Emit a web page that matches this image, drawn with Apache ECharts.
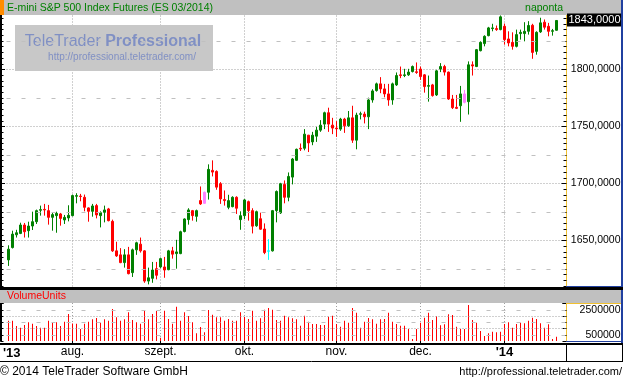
<!DOCTYPE html>
<html><head><meta charset="utf-8">
<script src="https://cdn.jsdelivr.net/npm/echarts@6/dist/echarts.min.js"></script>
<style>html,body{margin:0;padding:0;background:#fff}#c{width:624px;height:380px}</style>
</head><body><div id="c"></div>
<script>
// ---------- DATA ----------
const dates = [
'2013-07-10','2013-07-11','2013-07-12','2013-07-15','2013-07-16','2013-07-17','2013-07-18','2013-07-19','2013-07-22','2013-07-23',
'2013-07-24','2013-07-25','2013-07-26','2013-07-29','2013-07-30','2013-07-31','2013-08-01','2013-08-02','2013-08-05','2013-08-06',
'2013-08-07','2013-08-08','2013-08-09','2013-08-12','2013-08-13','2013-08-14','2013-08-15','2013-08-16','2013-08-19','2013-08-20',
'2013-08-21','2013-08-22','2013-08-23','2013-08-26','2013-08-27','2013-08-28','2013-08-29','2013-08-30','2013-09-02','2013-09-03',
'2013-09-04','2013-09-05','2013-09-06','2013-09-09','2013-09-10','2013-09-11','2013-09-12','2013-09-13','2013-09-16','2013-09-17',
'2013-09-18','2013-09-19','2013-09-20','2013-09-23','2013-09-24','2013-09-25','2013-09-26','2013-09-27','2013-09-30','2013-10-01',
'2013-10-02','2013-10-03','2013-10-04','2013-10-07','2013-10-08','2013-10-09','2013-10-10','2013-10-11','2013-10-14','2013-10-15',
'2013-10-16','2013-10-17','2013-10-18','2013-10-21','2013-10-22','2013-10-23','2013-10-24','2013-10-25','2013-10-28','2013-10-29',
'2013-10-30','2013-10-31','2013-11-01','2013-11-04','2013-11-05','2013-11-06','2013-11-07','2013-11-08','2013-11-11','2013-11-12',
'2013-11-13','2013-11-14','2013-11-15','2013-11-18','2013-11-19','2013-11-20','2013-11-21','2013-11-22','2013-11-25','2013-11-26',
'2013-11-27','2013-11-28','2013-11-29','2013-12-02','2013-12-03','2013-12-04','2013-12-05','2013-12-06','2013-12-09','2013-12-10',
'2013-12-11','2013-12-12','2013-12-13','2013-12-16','2013-12-17','2013-12-18','2013-12-19','2013-12-20','2013-12-23','2013-12-24',
'2013-12-26','2013-12-27','2013-12-30','2013-12-31','2014-01-02','2014-01-03','2014-01-06','2014-01-07','2014-01-08','2014-01-09',
'2014-01-10','2014-01-13','2014-01-14','2014-01-15','2014-01-16','2014-01-17','2014-01-20','2014-01-21'
];
const emptySlots = ['2014-01-22','2014-01-23'];

// [open, close, low, high]
const candles = [
[1633.0,1642.4,1627.7,1645.8],[1643.8,1655.6,1643.0,1658.6],[1655.0,1656.8,1652.6,1659.4],[1656.2,1663.6,1655.6,1665.6],[1663.6,1657.7,1652.6,1665.4],
[1658.6,1662.7,1652.6,1666.5],[1662.7,1666.5,1659.2,1675.3],[1666.5,1676.2,1664.5,1677.1],[1676.5,1677.1,1671.8,1680.6],[1677.3,1676.8,1671.8,1682.1],
[1676.2,1670.3,1663.9,1681.2],[1670.3,1672.7,1658.6,1674.2],[1671.8,1673.8,1656.8,1675.3],[1673.3,1669.4,1663.0,1674.2],[1668.0,1670.3,1664.5,1672.4],
[1669.8,1672.1,1666.8,1680.9],[1671.8,1689.4,1671.2,1690.3],[1688.8,1689.4,1682.6,1691.5],[1689.0,1688.6,1684.4,1690.9],[1687.9,1679.1,1675.6,1690.3],
[1678.6,1675.6,1666.5,1679.1],[1675.6,1680.3,1670.9,1682.1],[1680.6,1672.4,1669.4,1682.1],[1671.8,1674.4,1661.5,1675.6],[1674.7,1676.8,1665.9,1680.6],
[1677.7,1667.4,1666.8,1678.6],[1666.8,1640.9,1640.0,1668.3],[1640.9,1636.5,1635.6,1648.9],[1637.4,1630.6,1630.1,1643.3],[1630.6,1637.4,1626.2,1642.4],
[1637.4,1620.9,1620.3,1644.4],[1621.8,1641.8,1618.0,1642.9],[1641.8,1648.0,1637.4,1648.9],[1646.8,1640.9,1639.4,1652.6],[1640.9,1614.4,1612.9,1641.5],
[1614.4,1617.3,1611.5,1626.2],[1616.8,1624.1,1612.9,1631.2],[1625.3,1619.5,1615.9,1631.2],[1626.8,1634.1,1625.6,1635.0],[1626.8,1624.1,1617.3,1635.6],
[1624.4,1640.9,1623.9,1641.8],[1640.9,1638.0,1634.1,1644.4],[1638.5,1640.0,1625.3,1650.6],[1638.5,1657.7,1638.0,1658.6],[1657.9,1668.9,1657.1,1669.4],
[1668.3,1676.8,1663.9,1678.3],[1676.2,1671.8,1667.4,1676.8],[1671.2,1676.2,1666.5,1677.1],[1685.0,1682.1,1681.2,1697.4],[1682.6,1692.3,1682.1,1692.9],
[1692.3,1712.4,1685.9,1716.8],[1711.5,1710.0,1706.2,1720.3],[1710.6,1696.8,1694.5,1711.5],[1699.8,1686.5,1682.1,1701.2],[1685.9,1685.0,1680.6,1693.9],
[1679.1,1685.0,1677.4,1690.1],[1679.7,1687.9,1679.1,1688.8],[1687.9,1678.3,1673.3,1688.8],[1668.3,1671.8,1659.4,1675.6],[1671.8,1685.6,1668.9,1686.5],
[1684.1,1676.2,1667.4,1685.0],[1676.2,1662.6,1656.2,1678.3],[1662.9,1675.3,1662.0,1676.2],[1669.1,1659.9,1659.4,1674.4],[1660.1,1639.4,1638.0,1665.0],
[1640.6,1640.9,1633.0,1651.2],[1640.9,1676.2,1640.3,1676.8],[1676.2,1693.0,1665.9,1693.9],[1674.2,1699.8,1673.3,1700.6],[1699.2,1687.9,1682.6,1702.7],
[1687.9,1706.2,1684.4,1709.7],[1705.6,1721.5,1699.2,1722.4],[1720.3,1730.0,1719.7,1730.6],[1730.9,1730.3,1728.5,1735.1],[1730.9,1743.3,1729.1,1747.7],
[1742.4,1735.6,1727.6,1742.6],[1736.5,1742.4,1733.6,1745.3],[1741.5,1746.8,1736.5,1749.7],[1746.8,1751.2,1745.3,1755.6],[1752.1,1762.1,1747.7,1763.0],
[1762.1,1752.1,1745.3,1766.5],[1751.2,1748.6,1743.3,1757.6],[1748.6,1748.0,1740.9,1754.7],[1747.7,1756.5,1746.2,1757.6],[1756.5,1750.6,1744.4,1757.6],
[1750.6,1757.6,1749.7,1763.6],[1757.6,1738.0,1735.6,1768.2],[1738.0,1760.0,1730.0,1762.1],[1760.7,1761.2,1756.2,1763.0],[1760.9,1758.5,1752.7,1763.0],
[1758.5,1773.3,1747.7,1775.3],[1773.3,1781.2,1770.9,1782.7],[1781.5,1787.4,1780.6,1788.5],[1787.4,1783.0,1779.2,1793.3],[1783.0,1778.6,1775.6,1787.4],
[1778.6,1773.3,1768.2,1787.4],[1773.3,1787.4,1769.1,1788.5],[1786.5,1794.7,1785.6,1797.4],[1795.3,1794.7,1792.4,1802.6],[1794.7,1795.3,1793.3,1800.6],
[1795.3,1797.7,1794.4,1800.6],[1798.2,1802.6,1797.4,1803.5],[1798.0,1797.4,1796.2,1806.2],[1800.4,1793.8,1790.9,1802.6],[1795.3,1785.0,1779.7,1796.0],
[1785.3,1785.9,1771.8,1794.7],[1786.5,1777.1,1776.2,1787.4],[1777.7,1798.8,1776.8,1799.7],[1800.4,1802.6,1797.7,1805.6],[1802.6,1797.7,1794.7,1804.1],
[1797.7,1774.1,1773.3,1798.2],[1774.1,1766.5,1765.3,1777.7],[1766.8,1765.9,1765.3,1777.7],[1768.2,1778.6,1754.1,1785.6],[1771.2,1778.6,1770.3,1782.1],
[1771.8,1804.1,1760.5,1807.1],[1804.1,1803.1,1794.7,1807.1],[1802.6,1817.4,1802.1,1818.0],[1816.5,1823.8,1815.9,1824.7],[1822.7,1829.1,1820.3,1830.0],
[1829.7,1836.5,1829.1,1837.4],[1835.9,1836.5,1833.5,1840.1],[1835.9,1835.0,1833.9,1838.6],[1835.0,1846.2,1834.4,1847.4],[1837.9,1826.2,1821.8,1840.3],
[1826.8,1823.3,1820.3,1833.5],[1823.8,1820.3,1817.4,1832.6],[1820.3,1830.6,1819.4,1835.0],[1831.5,1832.6,1826.2,1835.0],[1831.5,1833.5,1824.7,1841.5],
[1833.5,1838.6,1830.6,1842.4],[1838.8,1815.0,1809.4,1840.1],[1815.9,1832.6,1813.0,1833.5],[1833.0,1840.9,1832.1,1845.4],[1841.5,1837.1,1835.0,1843.9],
[1837.9,1833.5,1829.1,1840.9],[1833.5,1834.1,1829.7,1835.6],[1834.4,1843.0,1834.1,1843.3]
];

const volumes = [
1627000,1627000,1200000,1067000,1280000,1493000,1387000,1200000,1067000,1067000,
1627000,1493000,1493000,1200000,1547000,2160000,1400000,1387000,960000,1387000,
1547000,1733000,1840000,1467000,1733000,1627000,2560000,1893000,1627000,1733000,
2293000,1680000,1493000,1387000,2427000,1733000,2160000,2400000,267000,2427000,
1760000,1387000,2747000,1627000,2293000,2000000,1493000,613000,1120000,693000,
2480000,2107000,1893000,1893000,1627000,1760000,1627000,1627000,2293000,1920000,
1760000,2427000,1627000,1813000,2507000,2640000,2507000,1680000,1627000,2027000,
1893000,1813000,1733000,1227000,2027000,1547000,1360000,1360000,1280000,1280000,
1947000,2027000,1360000,1147000,1627000,1467000,2640000,2267000,1067000,1547000,
1840000,1733000,1387000,1733000,1760000,2267000,1547000,1360000,1227000,1227000,
960000,160000,960000,1467000,1867000,2267000,1680000,1973000,1253000,1333000,
2133000,2080000,1147000,960000,960000,2880000,1680000,1467000,800000,400000,
613000,747000,693000,747000,1360000,1493000,1067000,1360000,1467000,1413000,
1627000,1867000,1760000,1413000,1067000,1333000,160000,347000
];

const monthLabels = {
'2013-08-01':'aug.','2013-09-02':'szept.','2013-10-01':'okt.',
'2013-11-01':'nov.','2013-12-02':'dec.','2014-01-02':"'14"
};
const yearStartLabel = "'13";
const boldLabels = ["'14"];
const priceLabelMin = 1650, priceLabelMax = 1800;
const priceMidLevels = [1625, 1675, 1725, 1775, 1825];
const volumeLabelValues = [500000, 2500000];
const volumeDottedLevels = [1000000, 2000000];
const volumeDashedLevels = [500000, 1500000, 2500000];
const markedDays = {'2013-09-17':'#ff80ff','2013-10-09':'#00ffff','2013-12-17':'#ff80ff'};

// ---------- CHART ----------
const FONT = '"Liberation Sans", Arial, sans-serif';
const chart = echarts.init(document.getElementById('c'), null, {renderer:'canvas', width:624, height:380});
const categories = dates.concat(emptySlots);
const isMonthStart = (idx, val) => monthLabels[val] !== undefined;
const dotted = {color:'#a0a0a0', type:[1,2], width:1};

const candleData = candles.map((c, i) => {
  const col = markedDays[dates[i]];
  return col ? {value:c, itemStyle:{color:col, color0:col, borderColor:col, borderColor0:col}} : c;
});

chart.setOption({
  animation:false,
  grid:[
    {left:6.5, right:57.5, top:12.5, height:285, outerBoundsMode:'none', containLabel:false},
    {left:6.5, right:57.5, top:303, height:38, outerBoundsMode:'none', containLabel:false}
  ],
  xAxis:[
    {gridIndex:0, type:'category', data:categories, boundaryGap:true,
     axisLine:{show:false}, axisTick:{show:false}, axisLabel:{show:false},
     splitLine:{show:true, interval:isMonthStart, alignWithLabel:true, lineStyle:dotted}},
    {gridIndex:1, type:'category', data:categories, boundaryGap:true, offset:3,
     axisLine:{show:false},
     axisTick:{show:true, interval:isMonthStart, alignWithLabel:true, length:4, lineStyle:{color:'#000'}},
     axisLabel:{show:true, interval:isMonthStart, margin:2, color:'#000', fontSize:12, fontFamily:FONT,
       formatter:v => { const t = monthLabels[v] || ''; return boldLabels.includes(t) ? '{b|' + t + '}' : t; },
       rich:{b:{fontWeight:'bold', fontSize:13, fontFamily:FONT, color:'#000'}}},
     splitLine:{show:true, interval:isMonthStart, alignWithLabel:true, lineStyle:dotted}}
  ],
  yAxis:[
    {gridIndex:0, type:'value', position:'right', min:1600, max:1850, interval:50,
     axisLine:{show:true, lineStyle:{color:'#f0c030', width:1}},
     axisTick:{show:true, inside:true, length:5, lineStyle:{color:'#000'}},
     minorTick:{show:true, splitNumber:10, length:3, lineStyle:{color:'#000'}},
     axisLabel:{show:true, inside:false, align:'right', margin:54, color:'#000', fontSize:10.5, fontFamily:FONT,
       formatter:v => (v >= priceLabelMin && v <= priceLabelMax) ? v.toFixed(4).replace('.', ',') : ''},
     splitLine:{show:true, lineStyle:dotted}},
    {gridIndex:0, type:'value', position:'left', offset:5.5, min:1600, max:1850, interval:50,
     axisLine:{show:true, lineStyle:{color:'#000', width:2}},
     axisTick:{show:true, inside:true, length:4, lineStyle:{color:'#000'}},
     minorTick:{show:true, splitNumber:10, length:2.5, lineStyle:{color:'#000'}},
     axisLabel:{show:false}, splitLine:{show:false}},
    {gridIndex:1, type:'value', position:'right', min:0, max:3040000, interval:500000,
     axisLine:{show:true, lineStyle:{color:'#f0c030', width:1}},
     axisTick:{show:true, inside:true, length:4, lineStyle:{color:'#000'}},
     axisLabel:{show:true, inside:false, align:'right', margin:54, color:'#000', fontSize:10.5, fontFamily:FONT,
       formatter:v => volumeLabelValues.includes(v) ? String(v) : ''},
     splitLine:{show:false}},
    {gridIndex:1, type:'value', position:'left', offset:5.5, min:0, max:3040000, interval:500000,
     axisLine:{show:true, lineStyle:{color:'#000', width:2}},
     axisTick:{show:true, inside:true, length:2.5, lineStyle:{color:'#000'}},
     axisLabel:{show:false}, splitLine:{show:false}}
  ],
  series:[
    {type:'candlestick', xAxisIndex:0, yAxisIndex:0, data:candleData, barWidth:2,
     itemStyle:{color:'#008000', color0:'#ff0000', borderColor:'#008000', borderColor0:'#ff0000', borderWidth:1},
     markLine:{silent:true, symbol:'none', animation:false, label:{show:false},
       lineStyle:{type:[4,11], color:'#c0c0c0', width:1},
       data:priceMidLevels.map(v => ({yAxis:v}))}},
    {type:'bar', xAxisIndex:1, yAxisIndex:2, data:volumes, barWidth:1,
     itemStyle:{color:'#ff0000'},
     markLine:{silent:true, symbol:'none', animation:false, label:{show:false},
       data:volumeDashedLevels.map(v => ({yAxis:v, lineStyle:{type:[4,11], color:'#c0c0c0', width:1}}))
         .concat(volumeDottedLevels.map(v => ({yAxis:v, lineStyle:dotted})))}}
  ]
});

const lastClose = candles[candles.length - 1][1];
const yLast = chart.convertToPixel({yAxisIndex:0}, lastClose);

function txt(x, y, text, opt) {
  return Object.assign({type:'text', x:x, y:y, z:101, silent:true,
    style:Object.assign({text:text, fill:'#000', fontSize:12, fontFamily:FONT,
      align:'left', verticalAlign:'middle', textAlign:'left', textVerticalAlign:'middle'}, opt || {})});
}
function rect(x, y, w, h, fill, z) {
  return {type:'rect', silent:true, z:z || 100, shape:{x:x, y:y, width:w, height:h}, style:{fill:fill}};
}
function line(x1, y1, x2, y2, stroke, w, z) {
  return {type:'line', silent:true, z:z || 100, shape:{x1:x1, y1:y1, x2:x2, y2:y2}, style:{stroke:stroke, lineWidth:w || 1}};
}

const g = [
  // watermark
  rect(15, 25, 198, 46, '#c8c8c8', 3),
  {type:'text', x:113, y:42, z:4, silent:true, style:{
    text:'{a|TeleTrader }{b|Professional}', align:'center', verticalAlign:'middle', textAlign:'center', textVerticalAlign:'middle',
    rich:{a:{fontSize:16, fontFamily:FONT, fill:'#8090c4', color:'#8090c4'}, b:{fontSize:16, fontWeight:'bold', fontFamily:FONT, fill:'#8090c4', color:'#8090c4'}}}},
  {type:'text', x:122, y:57.5, z:4, silent:true, style:{text:'http://professional.teletrader.com/', fill:'#8090c4', fontSize:10, fontFamily:FONT,
    align:'center', verticalAlign:'middle', textAlign:'center', textVerticalAlign:'middle'}},
  // title bar
  rect(0, 0, 621, 15, '#c0c0c0'),
  rect(0, 0, 4, 15, '#ff8c00'),
  txt(7, 8, 'E-mini S&P 500 Index Futures (ES 03/2014)', {fill:'#008000', fontSize:10.5}),
  txt(563, 8, 'naponta', {fill:'#008000', fontSize:10.5, align:'right', textAlign:'right'}),
  // right blue border
  line(622, 0, 622, 343, '#2040a0', 2),
  line(566, 286.5, 622, 286.5, '#2040a0', 1),
  // separator + volume header
  rect(0, 287, 623, 3, '#000'),
  rect(0, 290, 621, 13, '#c0c0c0'),
  txt(7, 296.5, 'VolumeUnits', {fill:'#ff0000', fontSize:10.5}),
  line(566, 303.5, 621, 303.5, '#f0c030', 1),
  line(566, 341.5, 622, 341.5, '#2040a0', 1),
  // x label row frame
  rect(0, 343, 623, 2, '#000'),
  line(0, 361.5, 623, 361.5, '#000', 1),
  line(566.5, 343, 566.5, 362, '#000', 1),
  line(622.5, 343, 622.5, 362, '#000', 1),
  txt(3, 353.5, yearStartLabel, {fontWeight:'bold', fontSize:13}),
  // footer
  txt(0, 371.5, '\u00a9 2014 TeleTrader Software GmbH', {fontSize:12}),
  txt(622, 371.5, 'http://professional.teletrader.com/', {fontSize:11, align:'right', textAlign:'right'}),
  // last price marker
  rect(567, Math.round(yLast) - 6.5, 54, 13, '#000', 102),
  txt(620.5, Math.round(yLast), lastClose.toFixed(4).replace('.', ','), {fill:'#fff', fontSize:11, align:'right', textAlign:'right', z:103})
];
g[g.length - 1].z = 103;
chart.setOption({graphic:g});
</script>
</body></html>
